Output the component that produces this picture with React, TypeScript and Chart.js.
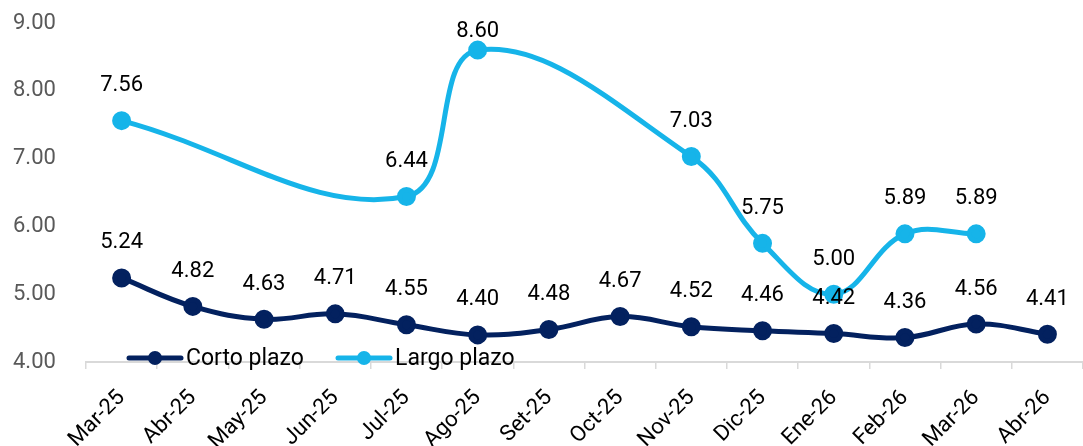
import React, { useEffect, useRef } from "react";
import { Chart, registerables } from "chart.js";

Chart.register(...registerables);

const categories = ["Mar-25","Abr-25","May-25","Jun-25","Jul-25","Ago-25","Set-25","Oct-25","Nov-25","Dic-25","Ene-26","Feb-26","Mar-26","Abr-26"];
const cortoPlazo = [5.24,4.82,4.63,4.71,4.55,4.40,4.48,4.67,4.52,4.46,4.42,4.36,4.56,4.41];
const largoPlazo: (number|null)[] = [7.56,null,null,null,6.44,8.60,null,null,7.03,5.75,5.00,5.89,5.89,null];
const seriesNames = ["Corto plazo","Largo plazo"];
const colors = ["#03215f","#16b4e9"];
const FONT = "Roboto, 'Noto Sans', sans-serif";

const labelPlugin = {
  id: "valueLabels",
  afterDatasetsDraw(chart: any) {
    const ctx = chart.ctx;
    ctx.save();
    ctx.font = `22px ${FONT}`;
    ctx.fillStyle = "#000";
    ctx.textAlign = "center";
    ctx.textBaseline = "middle";
    chart.data.datasets.forEach((ds: any, i: number) => {
      const meta = chart.getDatasetMeta(i);
      meta.data.forEach((pt: any, j: number) => {
        const v = ds.data[j];
        if (v === null || v === undefined) return;
        const y = Math.max(pt.y - 35, 31);
        ctx.fillText(v.toFixed(2), pt.x, y);
      });
    });
    ctx.restore();
  },
};

const legendPlugin = {
  id: "customLegend",
  afterDraw(chart: any) {
    const ctx = chart.ctx;
    const y = chart.chartArea.bottom - 4;
    const items = [{ x: 129 }, { x: 338 }];
    ctx.save();
    ctx.font = `23px ${FONT}`;
    ctx.textBaseline = "middle";
    ctx.textAlign = "left";
    items.forEach((it, i) => {
      ctx.strokeStyle = colors[i];
      ctx.lineWidth = 5;
      ctx.lineCap = "round";
      ctx.beginPath();
      ctx.moveTo(it.x, y);
      ctx.lineTo(it.x + 52, y);
      ctx.stroke();
      ctx.fillStyle = colors[i];
      ctx.beginPath();
      ctx.arc(it.x + 26, y, 7, 0, Math.PI * 2);
      ctx.fill();
      ctx.fillStyle = "#000";
      ctx.fillText(seriesNames[i], it.x + 57, y + 1);
    });
    ctx.restore();
  },
};

export default function App() {
  const ref = useRef<HTMLCanvasElement>(null);
  useEffect(() => {
    if (!ref.current) return;
    const chart = new Chart(ref.current, {
      type: "line",
      data: {
        labels: categories,
        datasets: [
          {
            label: seriesNames[0],
            data: cortoPlazo,
            borderColor: colors[0],
            backgroundColor: colors[0],
            borderWidth: 5,
            pointRadius: 7,
            pointHoverRadius: 7,
            tension: 0.4,
          },
          {
            label: seriesNames[1],
            data: largoPlazo,
            borderColor: colors[1],
            backgroundColor: colors[1],
            borderWidth: 5,
            pointRadius: 7,
            pointHoverRadius: 7,
            tension: 0.4,
            spanGaps: true,
          },
        ],
      },
      options: {
        responsive: false,
        animation: false,
        layout: { autoPadding: false, padding: { top: 23, right: 0, left: 13, bottom: 0 } },
        plugins: { legend: { display: false }, tooltip: { enabled: false } },
        scales: {
          x: {
            offset: true,
            grid: {
              offset: true,
              drawOnChartArea: false,
              drawTicks: true,
              tickLength: 7,
              color: "#d9d9d9",
              lineWidth: 1.5,
            },
            border: { display: true, color: "#d9d9d9", width: 2 },
            ticks: {
              color: "#000",
              font: { family: FONT, size: 22 },
              minRotation: 45,
              maxRotation: 45,
              padding: 16,
              autoSkip: false,
            },
            afterFit(scale: any) {
              scale.height = 84;
              scale.paddingRight = 0;
              scale.paddingLeft = 0;
            },
          },
          y: {
            min: 4,
            max: 9,
            grid: { display: false, drawTicks: false },
            border: { display: false },
            ticks: {
              stepSize: 1,
              color: "#595959",
              padding: 0,
              crossAlign: "far",
              font: { family: FONT, size: 22 },
              callback: (v: any) => Number(v).toFixed(2),
            },
            afterFit(scale: any) { scale.width = 73; },
          },
        },
      },
      plugins: [labelPlugin, legendPlugin],
    });
    return () => chart.destroy();
  }, []);
  return (
    <div style={{ position: "absolute", left: 0, top: 0, width: 1083, height: 446, background: "#fff" }}>
      <canvas ref={ref} width={1083} height={446} style={{ width: 1083, height: 446 }} />
    </div>
  );
}
